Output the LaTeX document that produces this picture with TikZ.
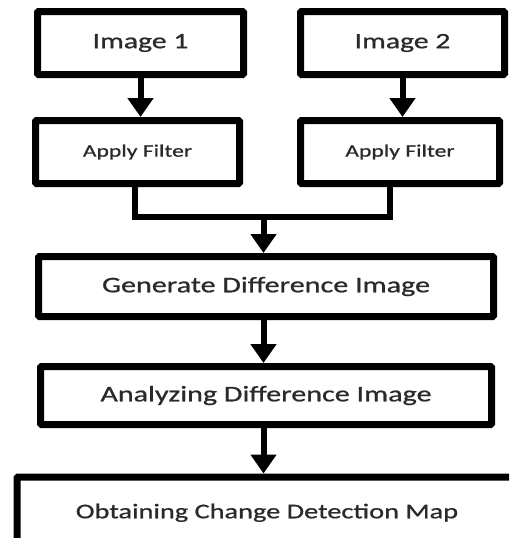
\documentclass[tikz,border=0pt]{standalone}
\usepackage{fontspec}
\usetikzlibrary{arrows.meta}
\newfontfamily\calfont[FakeStretch=1.35,FakeBold=0.8]{Carlito}
\definecolor{txt}{HTML}{2A2A2A}
\tikzset{
  box/.style={draw=black, line width=7pt, fill=white, rectangle, rounded corners=1pt,
    inner sep=0pt, text=txt, font=\calfont\fontsize{21}{25}\selectfont},
  bigtxt/.style={font=\calfont\fontsize{22}{26}\selectfont},
  midtxt/.style={font=\calfont\fontsize{22.3}{26}\selectfont},
  smalltxt/.style={font=\calfont\fontsize{17.5}{21}\selectfont},
  link/.style={draw=black, line width=6pt},
  arr/.style={link, -{Triangle[length=19pt,width=25pt]}}
}
\begin{document}
\begin{tikzpicture}[x=1pt,y=-1pt]
\useasboundingbox (0,0) rectangle (509,538);
\begin{scope}
\clip (0,0) rectangle (509,538);
\node[box,bigtxt,minimum width=206pt,minimum height=63pt] (img1) at (140.5,43) {Image 1};
\node[box,bigtxt,minimum width=204pt,minimum height=63pt] (img2) at (402.5,43) {Image 2};
\node[box,smalltxt,minimum width=204pt,minimum height=63pt] (af1) at (137.5,152) {Apply Filter};
\node[box,smalltxt,minimum width=199pt,minimum height=63pt] (af2) at (400,152) {Apply Filter};
\node[box,midtxt,minimum width=455pt,minimum height=60pt] (gen) at (266,286.5) {Generate Difference Image};
\node[box,midtxt,minimum width=451pt,minimum height=58pt] (ana) at (266,395.5) {Analyzing Difference Image};
\node[box,minimum width=500pt,minimum height=70pt,text depth=0pt] (obt) at (267,512) {\raisebox{2pt}{Obtaining Change Detection Map}};
\coordinate (j) at (263.5,217);
\draw[arr] (img1.south) -- (img1.south |- af1.north);
\draw[arr] (img2.south) -- (img2.south |- af2.north);
\draw[link, line join=miter] ([xshift=-2.5pt]af1.south) |- (j) -| ([xshift=-10pt]af2.south);
\draw[arr] (j) -- (j |- gen.north);
\draw[arr] (j |- gen.south) -- (j |- ana.north);
\draw[arr] (j |- ana.south) -- (j |- obt.north);
\end{scope}
\end{tikzpicture}
\end{document}
